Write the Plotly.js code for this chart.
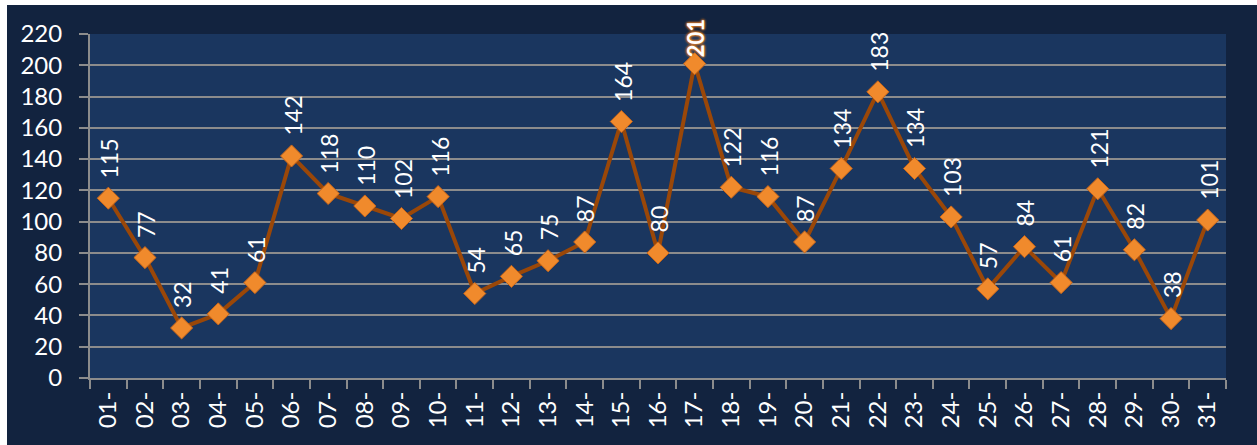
<!DOCTYPE html>
<html>
<head>
<meta charset="utf-8">
<script src="https://cdn.plot.ly/plotly-3.0.1.min.js"></script>
<style>
html,body{margin:0;padding:0;background:#ffffff;width:1257px;height:445px;overflow:hidden;}
#chart{position:absolute;left:7px;top:5px;width:1250px;height:440px;}
</style>
</head>
<body>
<div id="chart"></div>
<script>
const days = ["01-","02-","03-","04-","05-","06-","07-","08-","09-","10-","11-","12-","13-","14-","15-","16-","17-","18-","19-","20-","21-","22-","23-","24-","25-","26-","27-","28-","29-","30-","31-"];
const counts = [115,77,32,41,61,142,118,110,102,116,54,65,75,87,164,80,201,122,116,87,134,183,134,103,57,84,61,121,82,38,101];
const yTicks = [0,20,40,60,80,100,120,140,160,180,200,220];

const maxVal = Math.max(...counts);

const trace = {
  x: days,
  y: counts,
  type: "scatter",
  mode: "lines+markers",
  line: {color: "#9a4708", width: 4},
  marker: {symbol: "diamond", size: 17, color: "#f08a2c", line: {color: "#c8661a", width: 1}},
  hoverinfo: "x+y"
};

const annotations = days.map((d, i) => {
  const isMax = counts[i] === maxVal;
  return {
    x: d, y: counts[i], xref: "x", yref: "y",
    text: isMax ? "<b>" + counts[i] + "</b>" : String(counts[i]),
    showarrow: false,
    textangle: -90,
    xanchor: "center", yanchor: "bottom",
    yshift: isMax ? 4 : 18, xshift: 1,
    font: isMax
      ? {family: "Lato, 'Open Sans', sans-serif", size: 22, color: "#ffffff", shadow: "0 0 3px #f08020, 0 0 3px #f08020, 0 0 2px #f08020"}
      : {family: "Lato, 'Open Sans', sans-serif", size: 23, color: "#ffffff"}
  };
});

const layout = {
  width: 1250, height: 440,
  margin: {l: 83, r: 31, t: 29, b: 67},
  paper_bgcolor: "#12233f",
  plot_bgcolor: "#1a365f",
  showlegend: false,
  font: {family: "Lato, 'Open Sans', sans-serif", color: "#ffffff", size: 24},
  xaxis: {
    type: "category",
    range: [-0.5, 30.5],
    tickangle: -90,
    tickson: "boundaries",
    ticks: "outside", ticklen: 9, tickwidth: 2, tickcolor: "#8c8c8c",
    showgrid: false,
    showline: true, linecolor: "#8c8c8c", linewidth: 2,
    tickfont: {size: 24, color: "#ffffff"},
    ticklabelstandoff: 2,
    fixedrange: true
  },
  yaxis: {
    range: [0, 220],
    tickmode: "array", tickvals: yTicks, ticktext: yTicks.map(String),
    ticks: "outside", ticklen: 9, tickwidth: 2, tickcolor: "#8c8c8c",
    showgrid: true, gridcolor: "#8c8c8c", gridwidth: 2,
    showline: true, linecolor: "#8c8c8c", linewidth: 2,
    zeroline: false,
    tickfont: {size: 24, color: "#ffffff"},
    ticklabelstandoff: 12,
    fixedrange: true
  },
  annotations: annotations
};

Plotly.newPlot("chart", [trace], layout, {displayModeBar: false, staticPlot: true});
</script>
</body>
</html>
